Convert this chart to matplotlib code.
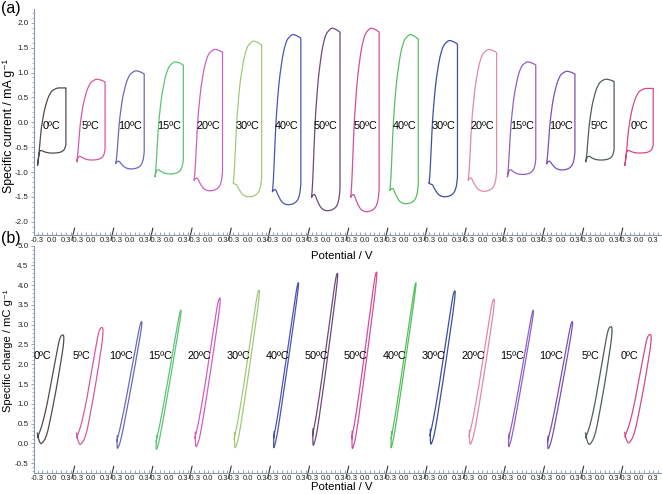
import numpy as np
import matplotlib
matplotlib.use('Agg')
import matplotlib.pyplot as plt

plt.rcParams['font.family'] = ['Liberation Sans', 'DejaVu Sans']

# temperatura de cada ciclo, na ordem em que aparecem no eixo
temps = ['0ºC', '5ºC', '10ºC', '15ºC', '20ºC', '30ºC', '40ºC', '50ºC',
         '50ºC', '40ºC', '30ºC', '20ºC', '15ºC', '10ºC', '5ºC', '0ºC']
colors = ['#4d4d4d', '#d45a9e', '#6a6ab8', '#5cc477', '#d25fc0', '#a3c87a',
          '#4b55b0', '#6e4a78', '#d24f9a', '#55c060', '#3f4fa0', '#e08aa8',
          '#8e60c8', '#7a50b8', '#4e5e5e', '#d04a8a']

# (a) corrente específica lida em cada ciclo (mA/g)
cv_start = [-0.86, -0.79, -0.82, -1.09, -1.16, -1.22, -1.39, -1.50,
            -1.50, -1.36, -1.22, -1.16, -1.09, -0.83, -0.79, -0.86]
cv_peak = [0.69, 0.87, 1.04, 1.22, 1.47, 1.64, 1.77, 1.90,
           1.90, 1.77, 1.65, 1.47, 1.22, 1.03, 0.87, 0.68]
cv_end = [0.69, 0.81, 0.97, 1.15, 1.41, 1.55, 1.69, 1.81,
          1.81, 1.67, 1.57, 1.40, 1.15, 0.97, 0.82, 0.68]
cv_rb = [-0.45, -0.55, -0.60, -0.75, -1.00, -1.10, -1.25, -1.35,
         -1.35, -1.25, -1.10, -1.00, -0.75, -0.60, -0.55, -0.45]
cv_min = [-0.62, -0.76, -0.94, -1.04, -1.38, -1.50, -1.66, -1.78,
          -1.80, -1.64, -1.50, -1.39, -1.05, -0.96, -0.76, -0.62]
cv_hump = [-0.56, -0.68, -0.78, -0.95, -1.12, -1.25, -1.35, -1.45,
           -1.45, -1.33, -1.25, -1.12, -0.95, -0.78, -0.68, -0.56]

# (b) carga específica lida em cada ciclo (mC/g)
q_bot = [-0.02, -0.04, -0.14, -0.17, -0.10, -0.13, -0.13, -0.07,
         -0.15, -0.13, -0.04, -0.04, -0.10, -0.15, -0.04, 0.00]
q_top = [2.76, 2.95, 3.10, 3.39, 3.70, 3.90, 4.09, 4.33,
         4.36, 4.09, 3.88, 3.67, 3.39, 3.10, 2.97, 2.77]
q_width = [1.0, 1.0, 0.45, 0.35, 0.55, 0.5, 0.35, 0.45,
           0.45, 0.3, 0.5, 0.55, 0.35, 0.45, 1.0, 1.0]

# forma do ramo anódico (fração entre início e pico)
up_v = [-0.30, -0.28, -0.26, -0.23, -0.20, -0.16, -0.12, -0.08, -0.04, 0.00, 0.05, 0.12]
up_w = [0.0, 0.08, 0.22, 0.43, 0.56, 0.70, 0.79, 0.87, 0.92, 0.96, 0.98, 1.0]
end_v = [0.12, 0.20, 0.25, 0.30]
end_w = [0.0, 0.3, 0.6, 1.0]

# contorno do ciclo de carga: fração de carga e desvio da diagonal (V)
loop_s = [0.10, 0.054, 0.01, 0.0, 0.068, 0.284, 0.522, 0.737, 0.888, 0.968,
          1.0, 0.978, 0.831, 0.583, 0.342, 0.158, 0.083, 0.06]
loop_off = [-0.062, -0.015, 0.044, 0.087, 0.155, 0.14, 0.113, 0.077, 0.048, 0.018,
            -0.015, -0.073, -0.06, -0.026, 0.001, 0.0, -0.03, -0.034]

SEG = 0.83      # largura de cada trecho do eixo quebrado (V)
V0 = -0.376     # potencial no início de cada trecho


def to_x(k, v):
    return k * SEG + (np.asarray(v) - V0)


def chaikin(x, y, n=2):
    # arredonda os cantos da linha poligonal, mantendo as pontas
    p = np.column_stack([x, y]).astype(float)
    for _ in range(n):
        q = 0.75 * p[:-1] + 0.25 * p[1:]
        r = 0.25 * p[:-1] + 0.75 * p[1:]
        mid = np.empty((2 * len(q), 2))
        mid[0::2] = q
        mid[1::2] = r
        p = np.vstack([p[:1], mid, p[-1:]])
    return p[:, 0], p[:, 1]


def cv_loop(k):
    vu = np.array(up_v + [0.20, 0.25, 0.30])
    iu = (cv_start[k] + (cv_peak[k] - cv_start[k]) * np.interp(vu, up_v, up_w)
          + (cv_end[k] - cv_peak[k]) * np.interp(vu, end_v, end_w))
    vu, iu = chaikin(vu, iu)
    rb, mn, hp, st = cv_rb[k], cv_min[k], cv_hump[k], cv_start[k]
    kv = [0.30, 0.28, 0.24, 0.18, 0.10, 0.00, -0.10, -0.18, -0.23, -0.26, -0.28, -0.30]
    ki = [rb, rb + 0.45 * (mn - rb), rb + 0.75 * (mn - rb), rb + 0.9 * (mn - rb),
          rb + 0.98 * (mn - rb), mn, mn + 0.15 * (hp - mn), mn + 0.6 * (hp - mn),
          hp, hp + 0.1 * (st - hp), hp + 0.4 * (st - hp), st]
    vd, idn = chaikin(kv, ki)
    return np.concatenate([vu, vd]), np.concatenate([iu, idn])


def q_loop(k):
    s = np.array(loop_s)
    diag = -0.3 + 0.56 * s
    v = diag + q_width[k] * np.array(loop_off)
    q = q_bot[k] + s * (q_top[k] - q_bot[k])
    return chaikin(v, q, 3)


fig = plt.figure(figsize=(6.62, 4.94), dpi=100)
ax_a = fig.add_axes([34 / 662, 1 - 234.5 / 494, 626.5 / 662, 225.2 / 494])
ax_b = fig.add_axes([34 / 662, 1 - 472.7 / 494, 626.5 / 662, 227.0 / 494])

axis_col = '#8a96a8'
for ax in (ax_a, ax_b):
    for side in ('top', 'right'):
        ax.spines[side].set_visible(False)
    for side in ('left', 'bottom'):
        ax.spines[side].set_color(axis_col)
        ax.spines[side].set_linewidth(0.8)
    ax.set_xlim(0, 16 * SEG)
    major = []
    labels = []
    minor = []
    for k in range(16):
        for v, lab in zip((-0.3, 0.0, 0.3), ('-0.3', '0.0', '0.3')):
            major.append(to_x(k, v))
            labels.append(lab)
        for j in range(8):
            minor.append(to_x(k, -0.3 + 0.1 * j))
    ax.set_xticks(major)
    ax.set_xticklabels(labels)
    ax.set_xticks(minor, minor=True)
    ax.tick_params(axis='x', which='both', direction='in', length=2, width=0.6,
                   color=axis_col, labelsize=5.5, pad=2, labelcolor='#222222')
    ax.tick_params(axis='y', which='major', direction='out', length=2.5, width=0.6,
                   color=axis_col, labelsize=5.8, pad=1.5, labelcolor='#222222')
    ax.tick_params(axis='y', which='minor', direction='out', length=1.5, width=0.5,
                   color=axis_col)
    # marcas de quebra do eixo
    for k in range(1, 16):
        ax.plot([k * SEG - 0.025, k * SEG + 0.03], [-0.022, 0.028],
                transform=ax.get_xaxis_transform(), color='#333333', lw=0.8,
                clip_on=False)

# painel (a)
for k in range(16):
    v, i = cv_loop(k)
    ax_a.plot(to_x(k, v), i, color=colors[k], lw=0.9)
    ax_a.text(to_x(k, 0.0), -0.07, temps[k], ha='center', va='center', fontsize=7.8)
ax_a.set_ylim(-2.255, 2.27)
ax_a.set_yticks(np.arange(-2.0, 2.01, 0.5))
ax_a.set_yticks(np.arange(-2.2, 2.21, 0.1), minor=True)
ax_a.yaxis.set_major_formatter(matplotlib.ticker.FormatStrFormatter('%.1f'))

# painel (b)
for k in range(16):
    v, q = q_loop(k)
    ax_b.plot(to_x(k, v), q, color=colors[k], lw=0.9)
    ax_b.text(to_x(k, -0.2), 2.22, temps[k], ha='center', va='center', fontsize=7.8)
ax_b.set_ylim(-0.744, 5.0)
ax_b.set_yticks(np.arange(-0.5, 5.01, 0.5))
ax_b.set_yticks(np.arange(-0.7, 5.01, 0.1), minor=True)
ax_b.yaxis.set_major_formatter(matplotlib.ticker.FormatStrFormatter('%.1f'))

fig.text(8.5 / 662, 1 - 126 / 494, 'Specific current / mA g\u207b\u00b9', rotation=90,
         ha='center', va='center', fontsize=8.8)
fig.text(8.5 / 662, 1 - 351 / 494, 'Specific charge / mC g\u207b\u00b9', rotation=90,
         ha='center', va='center', fontsize=8)
fig.text(342 / 662, 1 - 256 / 494, 'Potential / V', ha='center', va='center', fontsize=8.2)
fig.text(342 / 662, 1 - 487 / 494, 'Potential / V', ha='center', va='center', fontsize=8.2)
fig.text(1 / 662, 1 - 9 / 494, '(a)', ha='left', va='center', fontsize=11.5)
fig.text(1 / 662, 1 - 238 / 494, '(b)', ha='left', va='center', fontsize=11.5)

fig.savefig('out.png', dpi=100)
